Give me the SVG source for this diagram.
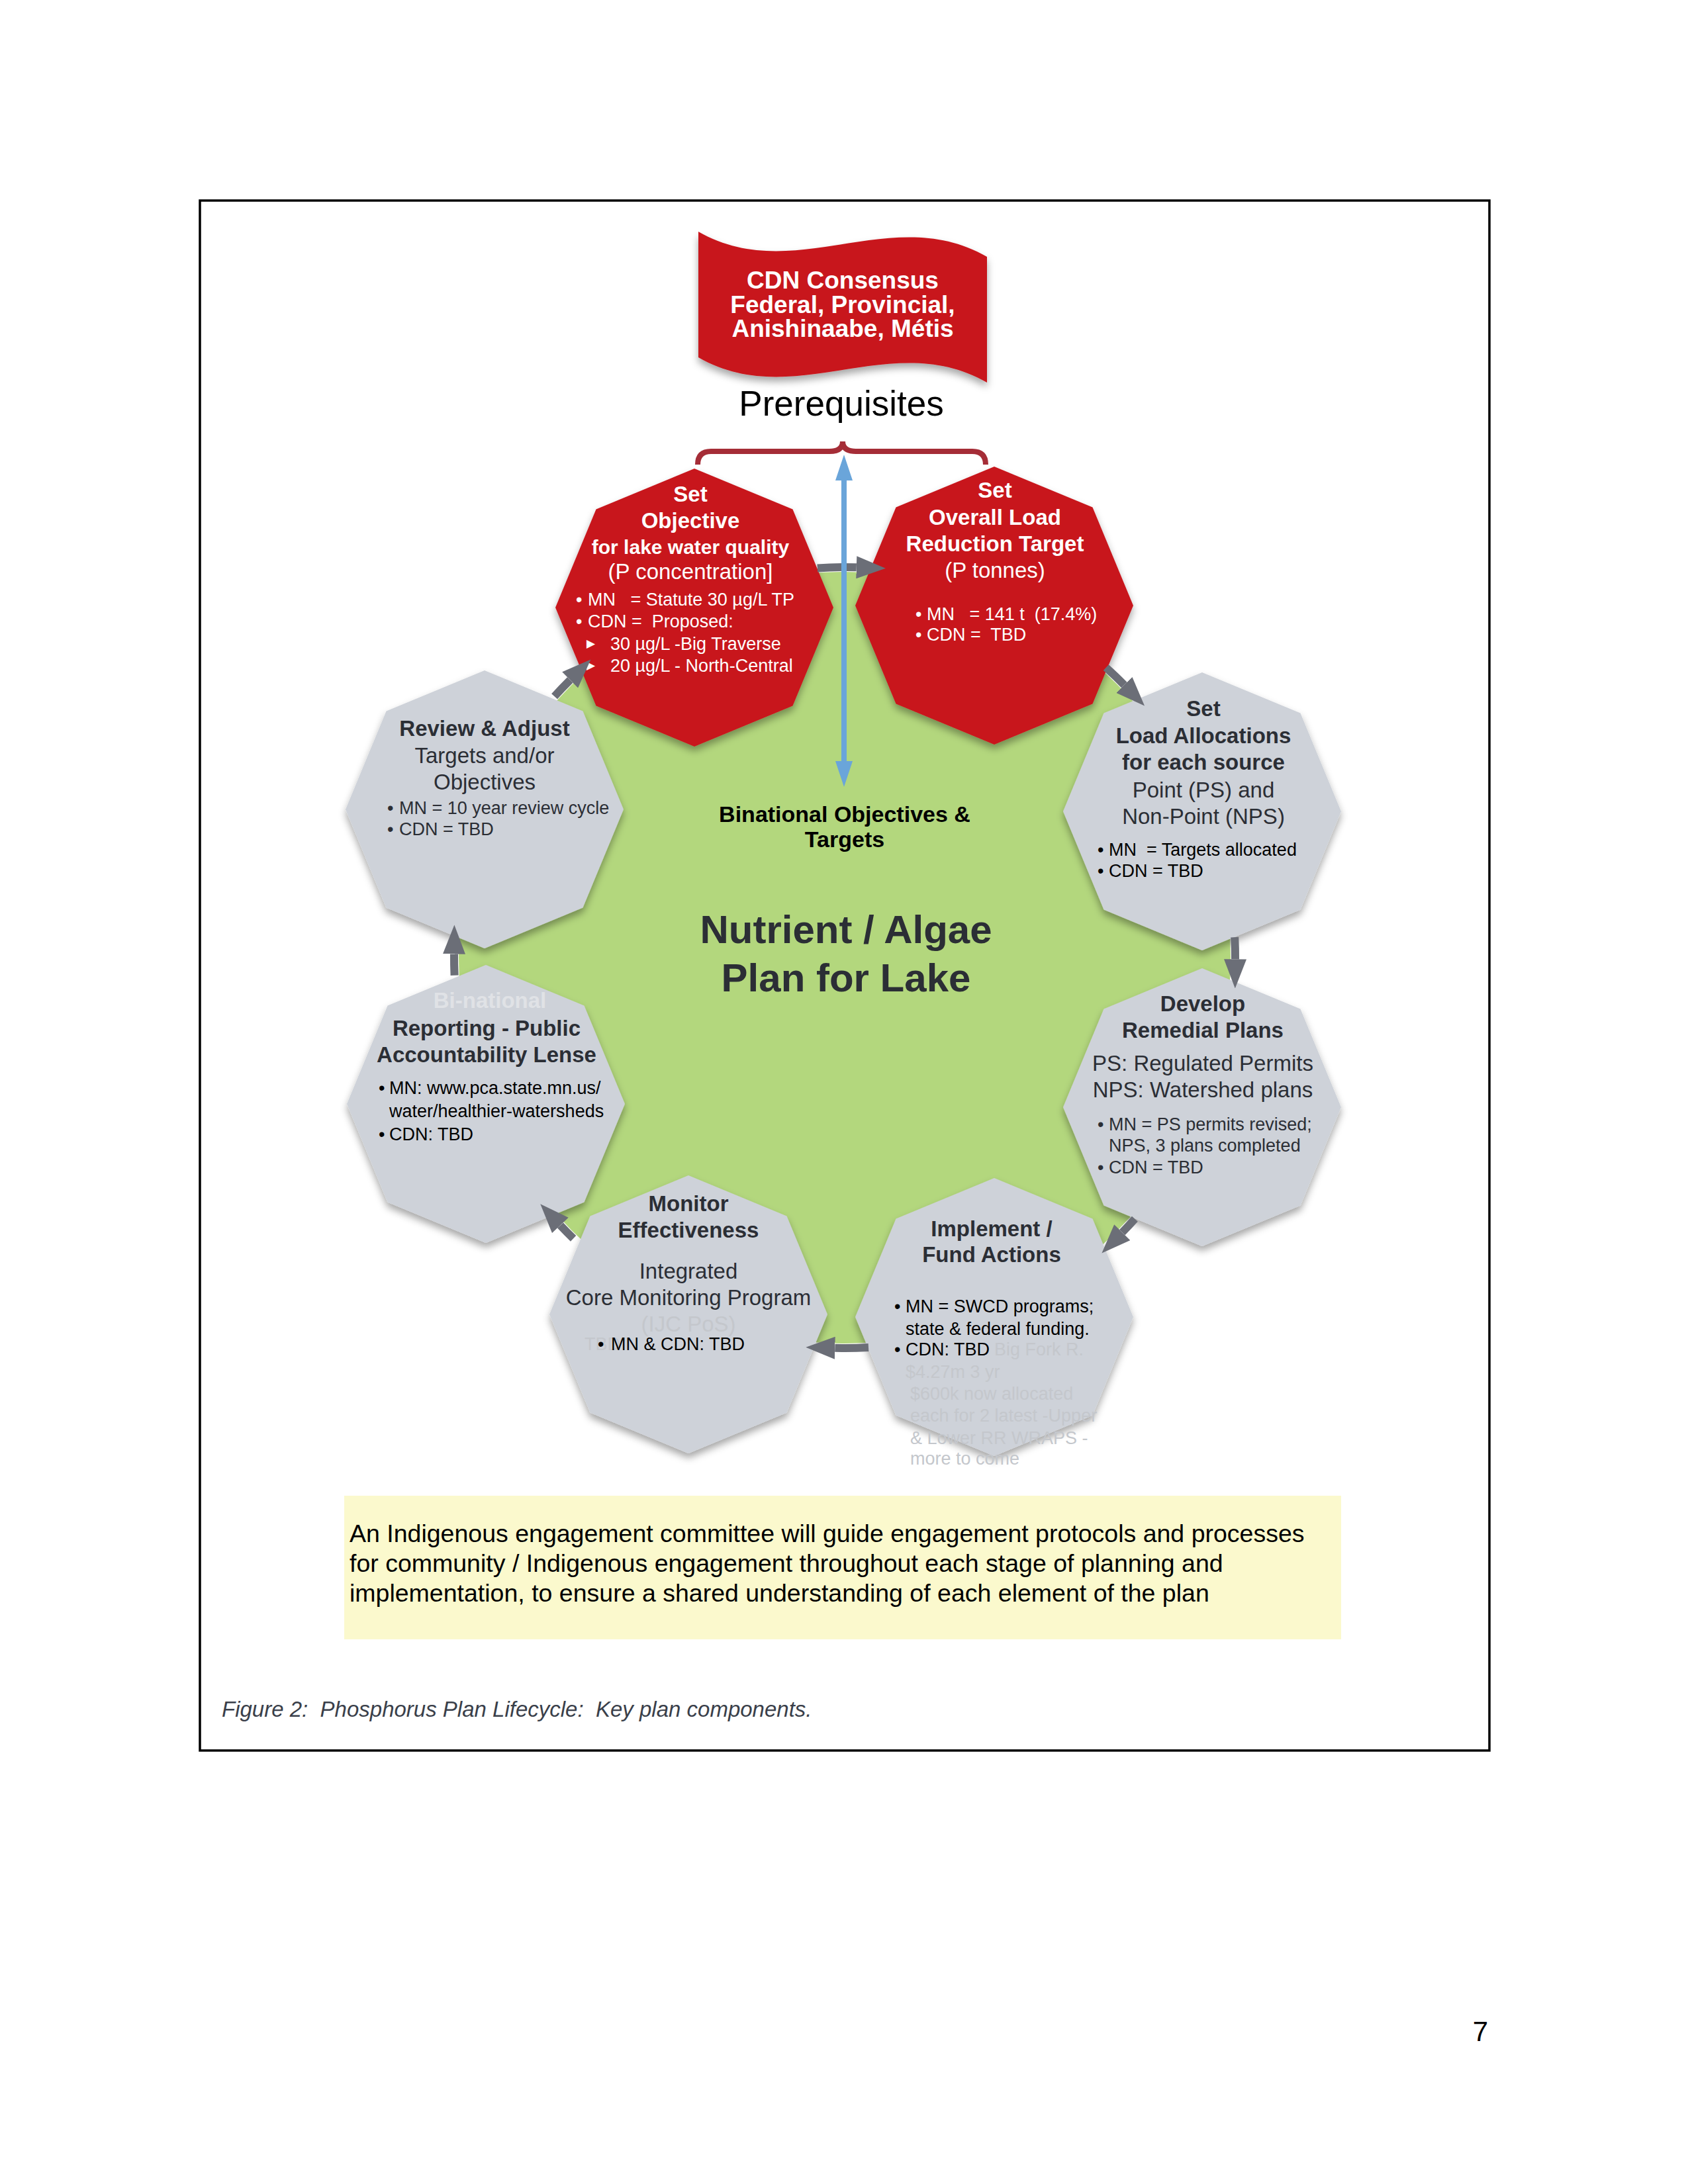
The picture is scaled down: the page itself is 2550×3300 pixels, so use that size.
<svg xmlns="http://www.w3.org/2000/svg" width="2550" height="3300" viewBox="0 0 2550 3300">
<style>
text { font-family: "Liberation Sans", Arial, sans-serif; white-space: pre; }
.b { font-weight: bold; }
.h { font-size: 33px; }
.s { font-size: 27px; }
.m { text-anchor: middle; }
.w { fill: #ffffff; }
.g { fill: #2b2e35; }
.k { fill: #000000; }
.f { fill: #c4c7cc; }
.red { fill: #c8191e; }
.gray { fill: #ced2d9; }
.arr { fill: none; stroke: #6b6e77; stroke-width: 12; marker-end: url(#ah); }
</style>
<defs>
<polygon id="oct" points="0,-210 148.5,-148.5 210,0 148.5,148.5 0,210 -148.5,148.5 -210,0 -148.5,-148.5"/>
<filter id="sh" x="-20%" y="-20%" width="140%" height="140%">
<feDropShadow dx="0" dy="7" stdDeviation="6" flood-color="#000" flood-opacity="0.35"/>
</filter>
<marker id="ah" markerUnits="userSpaceOnUse" markerWidth="44" markerHeight="34" viewBox="0 0 44 34" refX="0" refY="17" orient="auto">
<path d="M0,0 L44,17 L0,34 Z" fill="#6b6e77"/>
</marker>
</defs>
<rect width="2550" height="3300" fill="#ffffff"/>
<rect id="frame" x="302" y="303" width="1948" height="2342" fill="none" stroke="#000" stroke-width="3.5"/>

<g id="flag">
<path d="M1055,350 C1200,433 1346,305 1491,388 L1491,578 C1346,495 1200,623 1055,540 Z" fill="#c8191e" filter="url(#sh)"/>
<text class="b w m" x="1273" y="436" font-size="37">CDN Consensus</text>
<text class="b w m" x="1273" y="473" font-size="37">Federal, Provincial,</text>
<text class="b w m" x="1273" y="509" font-size="37">Anishinaabe, Métis</text>
</g>
<g id="prereq">
<text class="m" x="1271" y="628" font-size="53" fill="#000">Prerequisites</text>
<path d="M1054,702 Q1054,682 1074,682 L1253,682 Q1273,682 1273,667 Q1273,682 1293,682 L1469,682 Q1489,682 1489,702" fill="none" stroke="#a52d37" stroke-width="8"/>
</g>

<g id="lake">
<circle cx="1276" cy="1447" r="583" fill="#b3d77d"/>
<text class="b k m" x="1276" y="1242" font-size="34">Binational Objectives &amp;</text>
<text class="b k m" x="1276" y="1280" font-size="34">Targets</text>
<text class="b g m" x="1278" y="1425" font-size="60">Nutrient / Algae</text>
<text class="b g m" x="1278" y="1498" font-size="60">Plan for Lake</text>
</g>

<g id="node-objective">
<use href="#oct" x="1049" y="918" class="red" filter="url(#sh)"/>
<text class="b h w m" x="1043" y="758">Set</text>
<text class="b h w m" x="1043" y="798">Objective</text>
<text class="b w m" x="1043" y="837" font-size="30">for lake water quality</text>
<text class="h w m" x="1043" y="875">(P concentration]</text>
<text class="s w" x="870" y="915">•</text><text class="s w" x="888" y="915">MN   = Statute 30 µg/L TP</text>
<text class="s w" x="870" y="948">•</text><text class="s w" x="888" y="948">CDN =  Proposed:</text>
<text class="w" x="886" y="978" font-size="17">▶</text><text class="s w" x="922" y="982">30 µg/L -Big Traverse</text>
<text class="w" x="886" y="1011" font-size="17">▶</text><text class="s w" x="922" y="1015">20 µg/L - North-Central</text>
</g>

<g id="node-load">
<use href="#oct" x="1502" y="915" class="red" filter="url(#sh)"/>
<text class="b h w m" x="1503" y="752">Set</text>
<text class="b h w m" x="1503" y="793">Overall Load</text>
<text class="b h w m" x="1503" y="833">Reduction Target</text>
<text class="h w m" x="1503" y="873">(P tonnes)</text>
<text class="s w" x="1383" y="937">•</text><text class="s w" x="1400" y="937">MN   = 141 t  (17.4%)</text>
<text class="s w" x="1383" y="968">•</text><text class="s w" x="1400" y="968">CDN =  TBD</text>
</g>

<g id="node-allocations">
<use href="#oct" x="1816" y="1226" class="gray" filter="url(#sh)"/>
<text class="b h g m" x="1818" y="1082">Set</text>
<text class="b h g m" x="1818" y="1123">Load Allocations</text>
<text class="b h g m" x="1818" y="1163">for each source</text>
<text class="h g m" x="1818" y="1205">Point (PS) and</text>
<text class="h g m" x="1818" y="1245">Non-Point (NPS)</text>
<text class="s k" x="1658" y="1293">•</text><text class="s k" x="1675" y="1293">MN  = Targets allocated</text>
<text class="s k" x="1658" y="1325">•</text><text class="s k" x="1675" y="1325">CDN = TBD</text>
</g>

<g id="node-remedial">
<use href="#oct" x="1816" y="1673" class="gray" filter="url(#sh)"/>
<text class="b h g m" x="1817" y="1528">Develop</text>
<text class="b h g m" x="1817" y="1568">Remedial Plans</text>
<text class="h g m" x="1817" y="1618">PS: Regulated Permits</text>
<text class="h g m" x="1817" y="1658">NPS: Watershed plans</text>
<text class="s g" x="1658" y="1708">•</text><text class="s g" x="1675" y="1708">MN = PS permits revised;</text>
<text class="s g" x="1675" y="1740">NPS, 3 plans completed</text>
<text class="s g" x="1658" y="1773">•</text><text class="s g" x="1675" y="1773">CDN = TBD</text>
</g>

<g id="node-implement">
<use href="#oct" x="1502" y="1990" class="gray" filter="url(#sh)"/>
<text class="b h g m" x="1498" y="1868">Implement /</text>
<text class="b h g m" x="1498" y="1907">Fund Actions</text>
<text class="s k" x="1351" y="1983">•</text><text class="s k" x="1368" y="1983">MN = SWCD programs;</text>
<text class="s k" x="1368" y="2017">state &amp; federal funding.</text>
<text class="s f" x="1502" y="2048">Big Fork R.</text>
<text class="s k" x="1351" y="2048">•</text><text class="s k" x="1368" y="2048">CDN: TBD</text>
<text class="s f" x="1368" y="2082">$4.27m 3 yr</text>
<text class="s f" x="1375" y="2115">$600k now allocated</text>
<text class="s f" x="1375" y="2148">each for 2 latest -Upper</text>
<text class="s f" x="1375" y="2182">&amp; Lower RR WRAPS -</text>
<text class="s f" x="1375" y="2213">more to come</text>
</g>

<g id="node-monitor">
<use href="#oct" x="1040" y="1986" class="gray" filter="url(#sh)"/>
<text class="b h g m" x="1040" y="1830">Monitor</text>
<text class="b h g m" x="1040" y="1870">Effectiveness</text>
<text class="h g m" x="1040" y="1932">Integrated</text>
<text class="h g m" x="1040" y="1972">Core Monitoring Program</text>
<text class="h f m" x="1040" y="2012">(IJC PoS)</text>
<text class="s f" x="883" y="2040">TBD</text>
<text class="s k" x="903" y="2040">•</text><text class="s k" x="923" y="2040">MN &amp; CDN: TBD</text>
</g>

<g id="node-reporting">
<use href="#oct" x="734" y="1668" class="gray" filter="url(#sh)"/>
<text class="b h m" x="740" y="1523" fill="#e0e2e6">Bi-national</text>
<text class="b h g m" x="735" y="1565">Reporting - Public</text>
<text class="b h g m" x="735" y="1605">Accountability Lense</text>
<text class="s k" x="572" y="1653">•</text><text class="s k" x="588" y="1653">MN: www.pca.state.mn.us/</text>
<text class="s k" x="588" y="1688">water/healthier-watersheds</text>
<text class="s k" x="572" y="1723">•</text><text class="s k" x="588" y="1723">CDN: TBD</text>
</g>

<g id="node-review">
<use href="#oct" x="732" y="1223" class="gray" filter="url(#sh)"/>
<text class="b h g m" x="732" y="1112">Review &amp; Adjust</text>
<text class="h g m" x="732" y="1153">Targets and/or</text>
<text class="h g m" x="732" y="1193">Objectives</text>
<text class="s g" x="585" y="1230">•</text><text class="s g" x="603" y="1230">MN = 10 year review cycle</text>
<text class="s g" x="585" y="1262">•</text><text class="s g" x="603" y="1262">CDN = TBD</text>
</g>

<g id="connectors">
<path class="arr" d="M1234.8,858.4 A590,590 0 0 1 1293.8,857.3"/>
<path class="arr" d="M1670.8,1008.6 A590,590 0 0 1 1698.3,1035.0"/>
<path class="arr" d="M1865.2,1416.1 A590,590 0 0 1 1866.0,1449.4"/>
<path class="arr" d="M1714.4,1841.8 A590,590 0 0 1 1695.3,1862.1"/>
<path class="arr" d="M1312.0,2035.9 A590,590 0 0 1 1261.3,2036.8"/>
<path class="arr" d="M866.1,1871.4 A590,590 0 0 1 846.4,1851.4"/>
<path class="arr" d="M686.6,1473.8 A590,590 0 0 1 686.0,1441.5"/>
<path class="arr" d="M837.6,1052.2 A590,590 0 0 1 861.2,1027.4"/>
<path d="M1275,724 L1275,1152" fill="none" stroke="#6aa5da" stroke-width="8"/>
<path d="M1275,687 L1262,726 L1288,726 Z" fill="#6aa5da"/>
<path d="M1275,1189 L1262,1150 L1288,1150 Z" fill="#6aa5da"/>
</g>

<g id="note">
<rect x="520" y="2260" width="1506" height="217" fill="#fbf9cd"/>
<text x="528" y="2330" font-size="37.5" fill="#000">An Indigenous engagement committee will guide engagement protocols and processes</text>
<text x="528" y="2375" font-size="37.5" fill="#000">for community / Indigenous engagement throughout each stage of planning and</text>
<text x="528" y="2420" font-size="37.5" fill="#000">implementation, to ensure a shared understanding of each element of the plan</text>
</g>

<text id="caption" x="335" y="2594" font-size="33" font-style="italic" fill="#3a3f4a">Figure 2:  Phosphorus Plan Lifecycle:  Key plan components.</text>
<text id="page" x="2248" y="3084" font-size="42" text-anchor="end" fill="#000">7</text>
</svg>
